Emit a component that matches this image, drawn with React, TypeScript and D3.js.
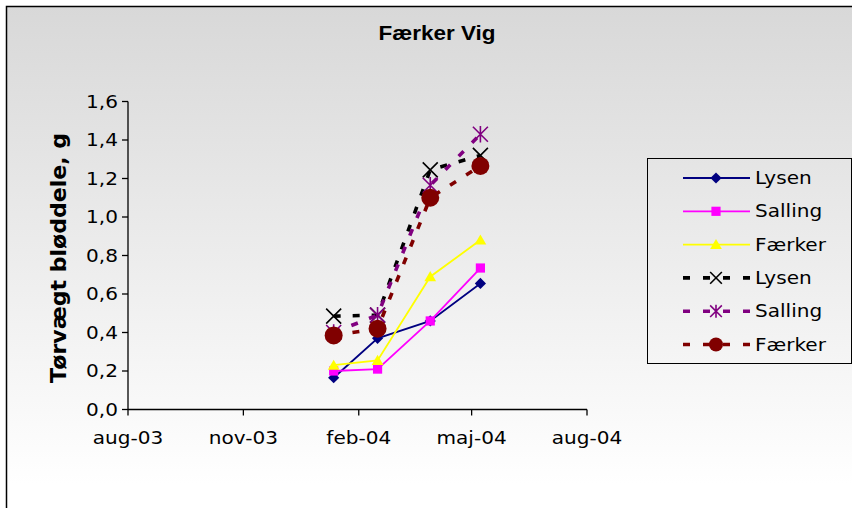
import React from 'react';
import * as d3 from 'd3';

// Sampling dates (x) shared by every series
const sampleDates = ['2004-01-12', '2004-02-16', '2004-03-29', '2004-05-08'];

// Dry weight of soft parts (g) per sampling date
const lysenSolid = [0.165, 0.37, 0.46, 0.655];
const sallingSolid = [0.2, 0.21, 0.46, 0.735];
const faerkerSolid = [0.23, 0.255, 0.69, 0.88];
const lysenDashed = [0.485, 0.49, 1.245, 1.32];
const sallingDashed = [0.4, 0.49, 1.165, 1.43];
const faerkerDashed = [0.385, 0.42, 1.1, 1.265];

const seriesNames = ['Lysen', 'Salling', 'Færker', 'Lysen', 'Salling', 'Færker'];
const seriesValues = [lysenSolid, sallingSolid, faerkerSolid, lysenDashed, sallingDashed, faerkerDashed];

const yTicks = [0, 0.2, 0.4, 0.6, 0.8, 1.0, 1.2, 1.4, 1.6];
const xTickDates = ['2003-08-01', '2003-11-01', '2004-02-01', '2004-05-01', '2004-08-01'];
const xTickLabels = ['aug-03', 'nov-03', 'feb-04', 'maj-04', 'aug-04'];

const title = 'Færker Vig';
const yTitle = 'Tørvægt bløddele, g';

type Style = { color: string; dashed: boolean; marker: string };
const styles: Style[] = [
  { color: '#000080', dashed: false, marker: 'diamond' },
  { color: '#FF00FF', dashed: false, marker: 'square' },
  { color: '#FFFF00', dashed: false, marker: 'triangle' },
  { color: '#000000', dashed: true, marker: 'x' },
  { color: '#800080', dashed: true, marker: 'star' },
  { color: '#800000', dashed: true, marker: 'circle' },
];

const W = 852;
const H = 508;
const plot = { left: 128, right: 587, top: 101.5, bottom: 409.5 };
const SX = 1.18; // horizontal stretch of the text glyphs
const textFont = '"DejaVu Sans", Verdana, sans-serif';

const parse = d3.utcParse('%Y-%m-%d');

function Marker({ kind, x, y, color, k = 1 }: { kind: string; x: number; y: number; color: string; k?: number }) {
  if (kind === 'diamond') {
    const s = 5.6 * k;
    return <path d={`M${x},${y - s}L${x + s},${y}L${x},${y + s}L${x - s},${y}Z`} fill={color} />;
  }
  if (kind === 'square') {
    const s = 4.6 * k;
    return <rect x={x - s} y={y - s} width={2 * s} height={2 * s} fill={color} />;
  }
  if (kind === 'triangle') {
    const s = 5.6 * k;
    return <path d={`M${x},${y - s}L${x + s * 1.05},${y + s * 0.8}L${x - s * 1.05},${y + s * 0.8}Z`} fill={color} />;
  }
  if (kind === 'x') {
    const s = 7.5 * k;
    return (
      <path d={`M${x - s},${y - s}L${x + s},${y + s}M${x - s},${y + s}L${x + s},${y - s}`} stroke={color} strokeWidth={1.6} fill="none" />
    );
  }
  if (kind === 'star') {
    const s = 7.5 * k;
    return (
      <path
        d={`M${x - s},${y - s}L${x + s},${y + s}M${x - s},${y + s}L${x + s},${y - s}M${x},${y - s * 1.1}L${x},${y + s * 1.1}`}
        stroke={color}
        strokeWidth={1.6}
        fill="none"
      />
    );
  }
  return <circle cx={x} cy={y} r={9 * k} fill={color} />;
}

function StretchText({ x, y, anchor, children, size = 17, weight = 'normal', family = textFont }: any) {
  return (
    <text
      transform={`translate(${x},${y}) scale(${SX},1)`}
      textAnchor={anchor}
      fontFamily={family}
      fontSize={size}
      fontWeight={weight}
      fill="#000"
    >
      {children}
    </text>
  );
}

export default function App() {
  const x = d3
    .scaleUtc()
    .domain([parse(xTickDates[0]) as Date, parse(xTickDates[xTickDates.length - 1]) as Date])
    .range([plot.left, plot.right]);
  const y = d3.scaleLinear().domain([0, 1.6]).range([plot.bottom, plot.top]);
  const dates = sampleDates.map((d) => parse(d) as Date);
  const line = d3
    .line<number>()
    .x((_, i) => x(dates[i]))
    .y((v) => y(v));
  const fmt = (v: number) => d3.format('.1f')(v).replace('.', ',');

  const legend = { x: 647, y: 158, w: 204, h: 205, row0: 178, step: 33.3 };

  return (
    <svg width={W} height={H} style={{ position: 'absolute', left: 0, top: 0 }}>
      <defs>
        <linearGradient id="bg" gradientUnits="userSpaceOnUse" x1="0" y1="6" x2="0" y2="485">
          <stop offset="0" stopColor="#d8d8d8" />
          <stop offset="1" stopColor="#ffffff" />
        </linearGradient>
      </defs>
      <rect x={0} y={0} width={W} height={H} fill="#ffffff" />
      <rect x={6.5} y={6.5} width={W + 20} height={H + 20} fill="url(#bg)" stroke="#000" strokeWidth={1.5} />

      {/* title */}
      <text
        x={437}
        y={40}
        textAnchor="middle"
        fontFamily='"Liberation Sans", Arial, sans-serif'
        fontWeight="bold"
        fontSize={19.5}
        textLength={117}
        lengthAdjust="spacingAndGlyphs"
      >
        {title}
      </text>

      {/* y axis */}
      <line x1={plot.left} x2={plot.left} y1={plot.top} y2={plot.bottom} stroke="#000" strokeWidth={1.3} />
      {yTicks.map((t) => (
        <g key={t}>
          <line x1={plot.left - 6} x2={plot.left} y1={y(t)} y2={y(t)} stroke="#000" strokeWidth={1.3} />
          <StretchText x={118} y={y(t) + 6} anchor="end">
            {fmt(t)}
          </StretchText>
        </g>
      ))}
      <text
        transform={`translate(66,258) rotate(-90)`}
        textAnchor="middle"
        fontFamily={textFont}
        fontWeight="bold"
        fontSize={21}
        textLength={250}
        lengthAdjust="spacingAndGlyphs"
      >
        {yTitle}
      </text>

      {/* x axis */}
      <line x1={plot.left} x2={plot.right} y1={plot.bottom} y2={plot.bottom} stroke="#000" strokeWidth={1.3} />
      {xTickDates.map((d, i) => {
        const px = x(parse(d) as Date);
        return (
          <g key={d}>
            <line x1={px} x2={px} y1={plot.bottom} y2={plot.bottom + 6} stroke="#000" strokeWidth={1.3} />
            <StretchText x={px} y={444} anchor="middle">
              {xTickLabels[i]}
            </StretchText>
          </g>
        );
      })}

      {/* series */}
      {seriesValues.map((vals, si) => {
        const st = styles[si];
        return (
          <g key={si}>
            <path
              d={line(vals) || ''}
              fill="none"
              stroke={st.color}
              strokeWidth={st.dashed ? 3.6 : 1.8}
              strokeDasharray={st.dashed ? '7,12' : undefined}
            />
            {vals.map((v, i) => (
              <Marker key={i} kind={st.marker} x={x(dates[i])} y={y(v)} color={st.color} />
            ))}
          </g>
        );
      })}

      {/* legend */}
      <rect x={legend.x + 0.5} y={legend.y + 0.5} width={legend.w} height={legend.h} fill="none" stroke="#000" strokeWidth={1} />
      {seriesNames.map((name, i) => {
        const st = styles[i];
        const cy = legend.row0 + i * legend.step;
        return (
          <g key={i}>
            <line
              x1={683}
              x2={750}
              y1={cy}
              y2={cy}
              stroke={st.color}
              strokeWidth={st.dashed ? 3.6 : 1.8}
              strokeDasharray={st.dashed ? '7,13' : undefined}
            />
            <Marker kind={st.marker} x={716} y={cy} color={st.color} k={st.dashed ? 0.78 : 1} />
            <StretchText x={755} y={cy + 6} anchor="start">
              {name}
            </StretchText>
          </g>
        );
      })}
    </svg>
  );
}
